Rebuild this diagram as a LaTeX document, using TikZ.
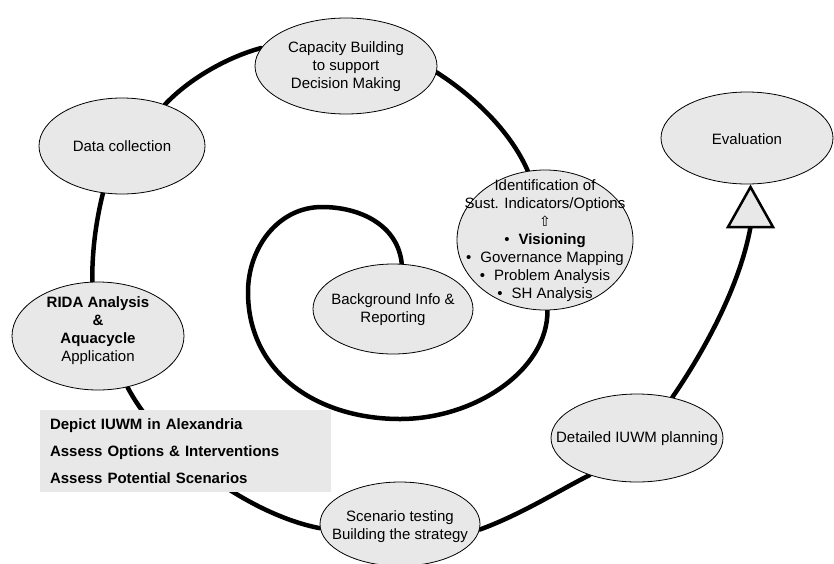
\documentclass[tikz,border=0pt]{standalone}
\usepackage{fontspec}
\setmainfont{Liberation Sans}
\newfontfamily\symfont{DejaVu Sans}
\usetikzlibrary{shapes.geometric}
\pgfdeclarelayer{background}
\pgfsetlayers{background,main}
\definecolor{ellgray}{HTML}{E8E8E8}
\begin{document}
\begin{tikzpicture}[x=1pt,y=-1pt,
  ell/.style={ellipse, draw=black, line width=0.8pt, fill=ellgray, inner sep=0pt},
  lbl/.style={inner sep=0pt, align=center, font=\fontsize{15}{18}\selectfont},
  spiral/.style={line width=4.5pt, line cap=round, line join=round},
  notebox/.style={rectangle, fill=ellgray, inner xsep=10pt, inner ysep=0pt, minimum width=291pt, minimum height=82pt, text width=271pt, align=left, font=\fontsize{15}{27}\selectfont\bfseries},
  headbox/.style={fill=ellgray, draw=black, line width=2.5pt, line join=miter}]
\useasboundingbox (0,0) rectangle (834,563);
% ellipses
\node[ell, minimum width=182pt, minimum height=96pt] (cap) at (346,66) {};
\node[ell, minimum width=166pt, minimum height=96pt] (data) at (122,146) {};
\node[ell, minimum width=172pt, minimum height=92pt] (eval) at (747,138) {};
\node[ell, minimum width=176pt, minimum height=140pt] (ident) at (545,240) {};
\node[ell, minimum width=160pt, minimum height=90pt] (bg) at (393,309) {};
\node[ell, minimum width=172pt, minimum height=108pt] (rida) at (98,336) {};
\node[ell, minimum width=160pt, minimum height=84pt] (scen) at (400,524) {};
\node[ell, minimum width=172pt, minimum height=88pt] (det) at (637,438) {};
% texts
\node[lbl] (capT) at (346,67) {Capacity Building\\to support\\Decision Making};
\node[lbl] (dataT) at (122,146) {Data collection};
\node[lbl] (evalT) at (747,139) {Evaluation};
\node[lbl] (identT) at (545,241) {Identification of\\Sust. Indicators/Options\\{\symfont\fontsize{14}{18}\selectfont ⇧}\\•\hspace{9pt}\textbf{Visioning}\\•\hspace{9pt}Governance Mapping\\•\hspace{9pt}Problem Analysis\\•\hspace{9pt}SH Analysis};
\node[lbl] (bgT) at (393,310) {Background Info \&\\Reporting};
\node[lbl] (ridaT) at (98,331) {\textbf{RIDA Analysis}\\\textbf{\&}\\\textbf{Aquacycle}\\Application};
\node[lbl] (scenT) at (400,527) {Scenario testing\\Building the strategy};
\node[lbl] (detT) at (637,439) {Detailed IUWM planning};
\node[notebox] (notes) at (185.5,451) {Depict IUWM in Alexandria\\Assess Options \& Interventions\\Assess Potential Scenarios};
\coordinate (ahead) at (750.5,227);
\coordinate (itop) at (322,207);
\coordinate (ileft) at (248,292);
\coordinate (ibot) at (400,419);
\begin{pgfonlayer}{background}
\draw[spiral] (bg.79) .. controls (398,225) and (360,207) .. (itop)
  .. controls (278,207) and (248,248) .. (ileft)
  .. controls (248,375) and (320,419) .. (ibot)
  .. controls (475,419) and (548,370) .. (ident.-88);
\draw[spiral] (ident.104) .. controls (510,130) and (472,95) .. (cap.-4);
\draw[spiral] (cap.168) .. controls (228,57) and (190,78) .. (data.44);
\draw[spiral] (data.-112) .. controls (95,225) and (92,255) .. (rida.96);
\draw[spiral] (rida.-60) .. controls (160,450) and (250,515) .. (scen.183);
\draw[spiral] (scen.-4) .. controls (520,515) and (560,490) .. (det.-142);
\draw[spiral] (det.49) .. controls (705,350) and (740,285) .. (ahead);
\end{pgfonlayer}
\draw[headbox] (ahead) ++(-22.5,0) -- ++(45,0) -- ++(-22.5,-40) -- cycle;
\end{tikzpicture}
\end{document}
